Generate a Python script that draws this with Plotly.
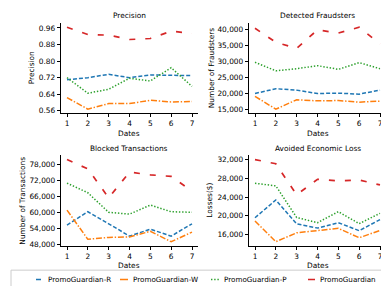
import plotly.graph_objects as go

dates = [1, 2, 3, 4, 5, 6, 7]
series_names = ["PromoGuardian-R", "PromoGuardian-W", "PromoGuardian-P", "PromoGuardian"]

precision_R = [0.710, 0.720, 0.736, 0.720, 0.733, 0.730, 0.730]
precision_W = [0.624, 0.568, 0.595, 0.595, 0.611, 0.603, 0.605]
precision_P = [0.720, 0.645, 0.664, 0.717, 0.704, 0.768, 0.678]
precision_F = [0.963, 0.928, 0.925, 0.904, 0.909, 0.944, 0.934]

fraud_R = [20000, 21500, 21050, 20000, 20100, 19800, 21050]
fraud_W = [19100, 15100, 18050, 17700, 17800, 17300, 17600]
fraud_P = [29750, 27100, 27750, 28700, 27550, 29650, 27750]
fraud_F = [40400, 36000, 34100, 39900, 38900, 40700, 35500]

blocked_R = [55200, 60200, 55700, 51100, 53700, 51100, 55700]
blocked_W = [60800, 49900, 50600, 50800, 52900, 49000, 52600]
blocked_P = [70900, 67300, 60000, 59300, 62700, 60200, 60000]
blocked_F = [79700, 76200, 65400, 75000, 74000, 73400, 67900]

loss_R = [19600, 23400, 18300, 17400, 18550, 16850, 19200]
loss_W = [18900, 14500, 16400, 16800, 17350, 15350, 16900]
loss_P = [26950, 26400, 19650, 18550, 20900, 18350, 20550]
loss_F = [32000, 31100, 24500, 27800, 27450, 27650, 26600]

panel_titles = ["Precision", "Detected Fraudsters", "Blocked Transactions", "Avoided Economic Loss"]
y_titles = ["Precision", "Number of Fraudsters", "Number of Transactions", "Losses($)"]
y_tick0 = [0.56, 15000, 48000, 16000]
y_dtick = [0.08, 5000, 6000, 4000]
y_fmt = [".2f", ",d", ",d", ",d"]

panels = [
    [precision_R, precision_W, precision_P, precision_F],
    [fraud_R, fraud_W, fraud_P, fraud_F],
    [blocked_R, blocked_W, blocked_P, blocked_F],
    [loss_R, loss_W, loss_P, loss_F],
]

colors = ["#1f77b4", "#ff7f0e", "#2ca02c", "#d62728"]
dashes = ["4px,2px", "6px,1.8px,1.4px,1.8px", "1.4px,1.8px", "6px,10px"]
legend_dashes = [
    "0px,23px,5px,2px,5px,30px",
    "0px,22px,8px,2px,1.5px,30px",
    "0px,22px,1.4px,1.8px,1.4px,1.8px,1.4px,1.8px,1.4px,1.8px,1.4px,30px",
    "0px,23px,7px,30px",
]
widths = [1.5, 1.5, 1.5, 1.7]

W, H = 389, 286
FONT = "DejaVu Sans"
FS = 7.4
LFS = 7.2

boxes = [
    (52.75, 190.25, 15.3, 106.0),
    (240.75, 378.25, 15.3, 106.0),
    (52.75, 190.25, 148.5, 239.5),
    (240.75, 378.25, 148.5, 239.5),
]
ytitle_x = [23, 203, 15, 202]
legend_text_x = [48, 133, 224, 320]
legend_ids = ["legend", "legend2", "legend3", "legend4"]

fig = go.Figure()
layout = dict(
    width=W, height=H,
    margin=dict(l=0, r=0, t=0, b=0),
    paper_bgcolor="white", plot_bgcolor="white",
    font=dict(family=FONT, size=FS, color="black"),
    showlegend=True,
)
annotations = []

for i, (vals, box) in enumerate(zip(panels, boxes)):
    n = "" if i == 0 else str(i + 1)
    xa, ya = "x" + n, "y" + n
    for j, v in enumerate(vals):
        fig.add_trace(go.Scatter(
            x=dates, y=v, mode="lines", name=series_names[j],
            xaxis=xa, yaxis=ya, showlegend=False,
            line=dict(color=colors[j], dash=dashes[j], width=widths[j]),
        ))
    allv = [a for s in vals for a in s]
    lo, hi = min(allv), max(allv)
    pad = (hi - lo) * 0.05
    l, r, t, b = box
    axis_common = dict(
        showline=True, linecolor="black", linewidth=1, mirror=False,
        ticks="outside", ticklen=3, tickwidth=1, tickcolor="black",
        showgrid=False, zeroline=False, automargin=False,
        tickfont=dict(family=FONT, size=FS, color="black"),
    )
    layout["xaxis" + n] = dict(
        domain=[l / W, r / W], anchor=ya, range=[0.7, 7.3],
        tick0=1, dtick=1, **axis_common,
    )
    layout["yaxis" + n] = dict(
        domain=[1 - b / H, 1 - t / H], anchor=xa, range=[lo - pad, hi + pad],
        tick0=y_tick0[i], dtick=y_dtick[i], tickformat=y_fmt[i], **axis_common,
    )
    cx = (l + r) / 2
    annotations.append(dict(text=panel_titles[i], x=cx / W, y=1 - (t - 7.5) / H,
                            xref="paper", yref="paper", showarrow=False,
                            xanchor="center", yanchor="middle",
                            font=dict(family=FONT, size=FS, color="black")))
    annotations.append(dict(text="Dates", x=cx / W, y=1 - (b + 20) / H,
                            xref="paper", yref="paper", showarrow=False,
                            xanchor="center", yanchor="middle",
                            font=dict(family=FONT, size=FS, color="black")))
    annotations.append(dict(text=y_titles[i], x=ytitle_x[i] / W, y=1 - ((t + b) / 2) / H,
                            xref="paper", yref="paper", showarrow=False, textangle=-90,
                            xanchor="center", yanchor="middle",
                            font=dict(family=FONT, size=FS, color="black")))

for j in range(4):
    fig.add_trace(go.Scatter(
        x=[None], y=[None], mode="lines", name=series_names[j],
        legend=legend_ids[j], showlegend=True,
        line=dict(color=colors[j], dash=legend_dashes[j], width=widths[j]),
    ))
    layout[legend_ids[j]] = dict(
        orientation="v", x=max(legend_text_x[j] - 48, 0) / W, xanchor="left",
        y=1 - 273.5 / H, yanchor="middle",
        font=dict(family=FONT, size=LFS, color="black"),
        bgcolor="rgba(0,0,0,0)", borderwidth=0, itemwidth=30,
    )

layout["annotations"] = annotations
layout["shapes"] = [dict(
    type="rect", xref="paper", yref="paper",
    x0=3 / W, x1=386 / W, y0=1 - 283 / H, y1=1 - 264 / H,
    line=dict(color="#cccccc", width=1), fillcolor="rgba(0,0,0,0)",
)]
fig.update_layout(**layout)
fig.write_html("out.html")
